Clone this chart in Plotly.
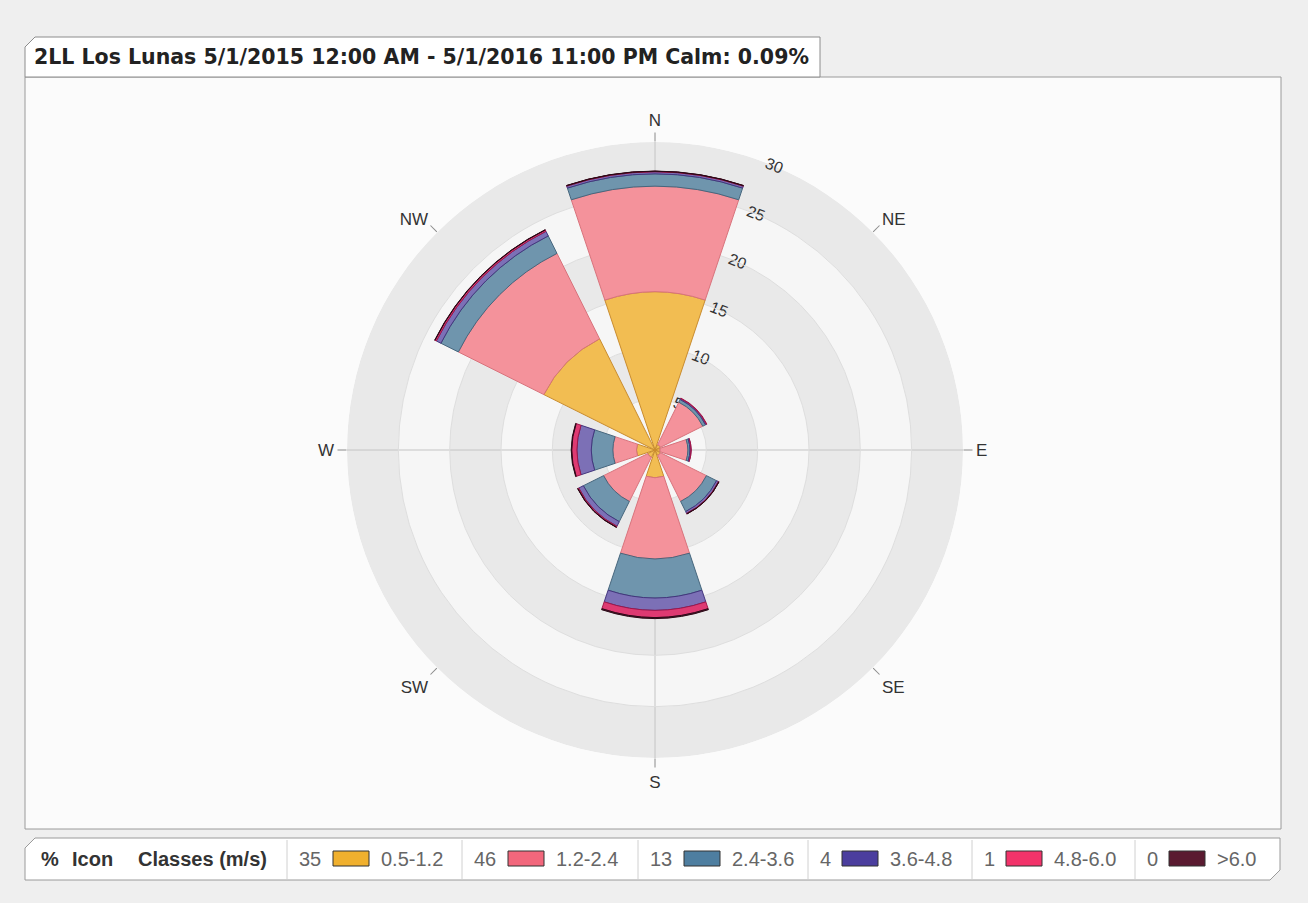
import plotly.graph_objects as go

# ---------------- data ----------------
directions = ["N", "NE", "E", "SE", "S", "SW", "W", "NW"]
classes = ["0.5-1.2", "1.2-2.4", "2.4-3.6", "3.6-4.8", "4.8-6.0", ">6.0"]
class_pct = [35, 46, 13, 4, 1, 0]
freq_05_12 = [15.4, 0.6, 0.5, 0.6, 2.7, 0.8, 1.8, 12.1]
freq_12_24 = [10.3, 4.6, 2.7, 5.0, 7.9, 4.8, 2.3, 9.3]
freq_24_36 = [1.2, 0.3, 0.2, 1.1, 3.8, 2.2, 2.1, 1.9]
freq_36_48 = [0.2, 0.1, 0.1, 0.2, 1.2, 0.5, 1.4, 0.5]
freq_48_60 = [0.05, 0.05, 0.02, 0.05, 0.7, 0.1, 0.5, 0.15]
freq_60_up = [0.02, 0.0, 0.0, 0.02, 0.1, 0.03, 0.05, 0.03]
radial_ticks = [5, 10, 15, 20, 25, 30]
title_text = "2LL Los Lunas 5/1/2015 12:00 AM - 5/1/2016 11:00 PM Calm: 0.09%"

series = [freq_05_12, freq_12_24, freq_24_36, freq_36_48, freq_48_60, freq_60_up]
bar_fill = ["#F2BD52", "#F4929B", "#6F95AD", "#7C70B6", "#DE3A72", "#5A2236"]
bar_line = ["#C98C2E", "#D8737C", "#46667D", "#43357E", "#A3164A", "#2B0A17"]
swatch_fill = ["#F0B02E", "#F2677C", "#4E7EA0", "#4B3E9E", "#F2336A", "#5A1A30"]

W, H = 1308, 903
def px(x):
    return x / W
def py(y):
    return 1 - y / H

cx, cy, R = 655, 450, 308
dom_x = [px(cx - R), px(cx + R)]
dom_y = [py(cy + R), py(cy - R)]

step = 360 / len(directions)
theta = [i * step for i in range(len(directions))]

fig = go.Figure()

# background bands (bottom polar)
band_cols = ["#f6f6f6", "#e9e9e9"]
prev = 0
for k, t in enumerate(radial_ticks):
    fig.add_trace(go.Barpolar(
        r=[t - prev, t - prev], base=[prev, prev], theta=[90, 270], width=[180, 180],
        marker=dict(color=band_cols[k % 2], line=dict(width=0)),
        subplot="polar", showlegend=False, hoverinfo="skip"))
    prev = t

# data bars (top polar)
for i, (name, vals) in enumerate(zip(classes, series)):
    fig.add_trace(go.Barpolar(
        r=vals, theta=theta, width=[37] * len(theta), name=name,
        marker=dict(color=bar_fill[i], line=dict(color=bar_line[i], width=1)),
        subplot="polar2", showlegend=False))

ang_common = dict(rotation=90, direction="clockwise", thetaunit="degrees",
                  showline=False, ticks="outside", ticklen=9, tickcolor="#8a8a8a",
                  tickfont=dict(family="Liberation Sans", size=17, color="#333333"))

fig.update_layout(
    width=W, height=H, margin=dict(l=0, r=0, t=0, b=0),
    paper_bgcolor="#efefef",
    polar=dict(
        domain=dict(x=dom_x, y=dom_y), bgcolor="rgba(0,0,0,0)",
        angularaxis=dict(**ang_common, tickmode="array",
                         tickvals=[45, 135, 225, 315], ticktext=["NE", "SE", "SW", "NW"],
                         showgrid=False),
        radialaxis=dict(range=[0, 30], tickvals=radial_ticks, angle=69, tickangle=90,
                        side="clockwise", showline=False, showgrid=False, ticks="",
                        tickfont=dict(family="Liberation Sans", size=16, color="#333333")),
    ),
    polar2=dict(
        domain=dict(x=dom_x, y=dom_y), bgcolor="rgba(0,0,0,0)", barmode="stack",
        angularaxis=dict(**ang_common, tickmode="array",
                         tickvals=[0, 90, 180, 270], ticktext=["N", "E", "S", "W"],
                         showgrid=True, gridcolor="#c4c4c4", gridwidth=1),
        radialaxis=dict(range=[0, 30], tickvals=radial_ticks[:-1], showticklabels=False,
                        showline=False, ticks="", showgrid=True, gridcolor="#dedede", gridwidth=1),
    ),
)

shapes = []
# chart frame
shapes.append(dict(type="rect", xref="paper", yref="paper", layer="below",
                   x0=px(25), x1=px(1281), y0=py(829), y1=py(77),
                   fillcolor="#fbfbfb", line=dict(color="#9a9a9a", width=1)))
# title tab
tab = [(25, 77), (25, 47), (35, 37), (820, 37), (820, 77)]
path = "M " + " L ".join(f"{px(x)},{py(y)}" for x, y in tab) + " Z"
shapes.append(dict(type="path", xref="paper", yref="paper", path=path,
                   fillcolor="#ffffff", line=dict(color="#8c8c8c", width=1)))
# legend box
lg = [(25, 880), (25, 848), (35, 838), (1280, 838), (1280, 870), (1270, 880)]
path = "M " + " L ".join(f"{px(x)},{py(y)}" for x, y in lg) + " Z"
shapes.append(dict(type="path", xref="paper", yref="paper", path=path,
                   fillcolor="#ffffff", line=dict(color="#9a9a9a", width=1)))

annotations = [dict(text="<b>" + title_text + "</b>", x=px(32), y=py(57), xref="paper", yref="paper",
                    xanchor="left", yanchor="middle", showarrow=False,
                    font=dict(family="DejaVu Sans", size=20.5, color="#222222"))]

head_font = dict(family="Liberation Sans", size=20, color="#333333")
for txt, x in [("%", 39), ("Icon", 70), ("Classes (m/s)", 136)]:
    annotations.append(dict(text="<b>" + txt + "</b>", x=px(x), y=py(859), xref="paper", yref="paper",
                            xanchor="left", yanchor="middle", showarrow=False, font=head_font))

seps = [287, 462, 638, 808, 972, 1135]
item_font = dict(family="Liberation Sans", size=20, color="#666666")
for i, s in enumerate(seps):
    shapes.append(dict(type="line", xref="paper", yref="paper",
                       x0=px(s), x1=px(s), y0=py(840), y1=py(879),
                       line=dict(color="#d0d0d0", width=1)))
    cnt = str(class_pct[i])
    cx0 = s + 10
    annotations.append(dict(text=cnt, x=px(cx0), y=py(859), xref="paper", yref="paper",
                            xanchor="left", yanchor="middle", showarrow=False, font=item_font))
    sw0 = cx0 + 12 * len(cnt) + 12
    shapes.append(dict(type="rect", xref="paper", yref="paper",
                       x0=px(sw0), x1=px(sw0 + 36), y0=py(866), y1=py(851),
                       fillcolor=swatch_fill[i], line=dict(color="#333333", width=1)))
    annotations.append(dict(text=classes[i], x=px(sw0 + 46), y=py(859), xref="paper", yref="paper",
                            xanchor="left", yanchor="middle", showarrow=False, font=item_font))

fig.update_layout(shapes=shapes, annotations=annotations)
fig.write_html("out.html", config={"displayModeBar": False},
               post_script="document.body.style.margin='0';")
